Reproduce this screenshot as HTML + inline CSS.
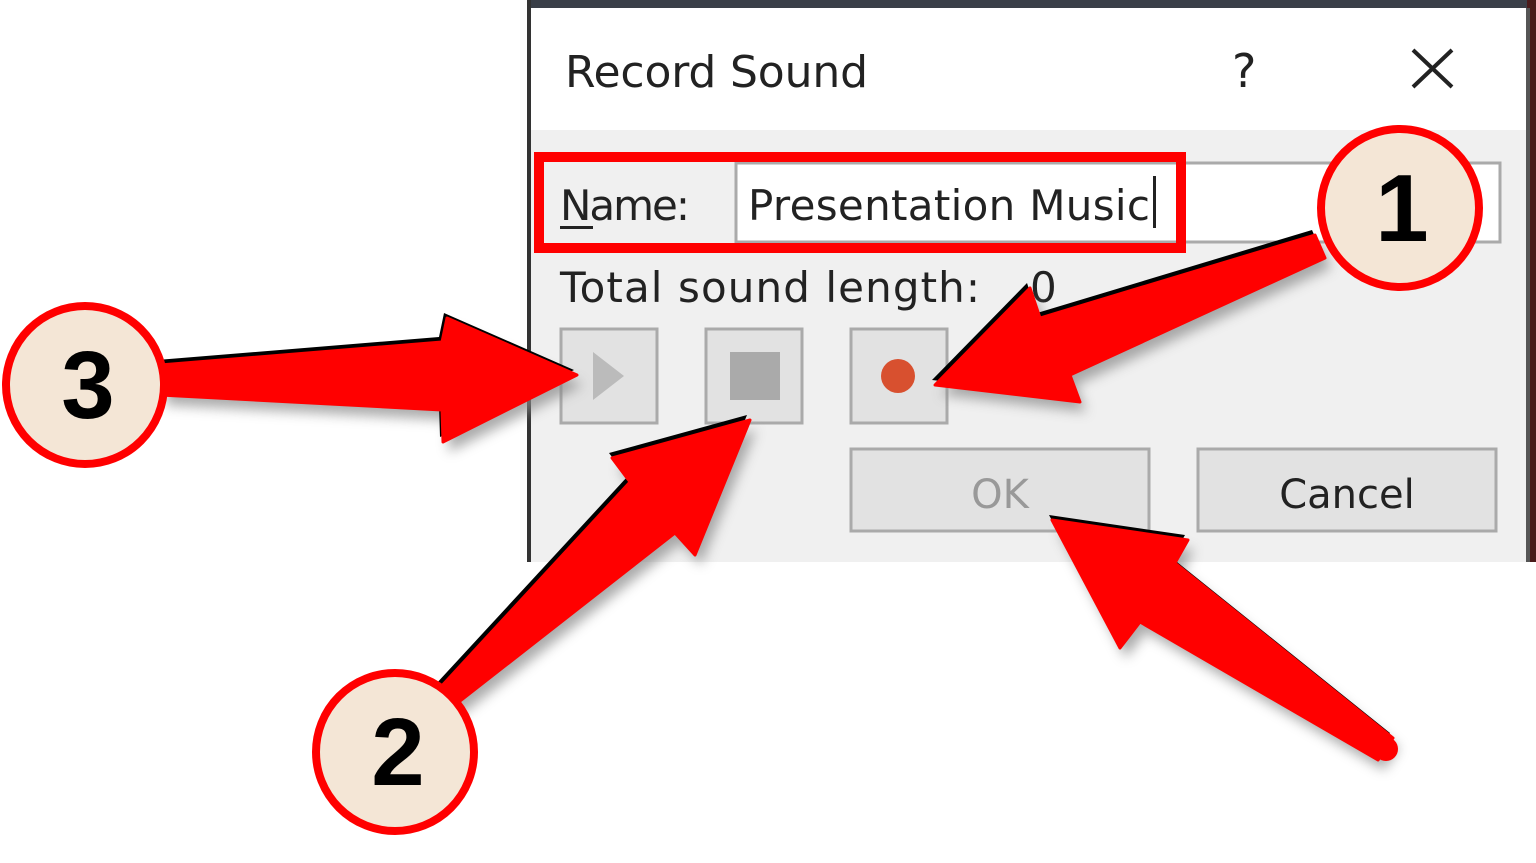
<!DOCTYPE html>
<html><head><style>
body{margin:0;width:1536px;height:863px;overflow:hidden;background:#fff;font-family:"DejaVu Sans","Liberation Sans",sans-serif;}
</style></head><body>
<svg width="1536" height="863" xmlns="http://www.w3.org/2000/svg" style="position:absolute;left:0;top:0">
<defs><filter id="sh" x="-20%" y="-20%" width="140%" height="140%"><feGaussianBlur stdDeviation="6"/></filter></defs>
<rect x="1520" y="0" width="16" height="562" fill="#4a1a1a"/>
<rect x="527" y="0" width="1000" height="8" fill="#3a3f48"/>
<rect x="527" y="8" width="1003" height="554" fill="#f0f0f0"/>
<rect x="530" y="8" width="998" height="122" fill="#fff"/>
<rect x="527" y="0" width="4" height="562" fill="#333"/>
<rect x="1526" y="8" width="4" height="554" fill="#555"/>
<text x="565" y="87" font-size="44" fill="#222" textLength="303">Record Sound</text>
<text x="1232" y="87" font-size="46" fill="#222">?</text>
<path d="M1413 50 L1452 87 M1452 50 L1413 87" stroke="#222" stroke-width="4"/>
<rect x="736" y="163" width="764" height="79" fill="#fff" stroke="#aaa" stroke-width="3"/>
<text x="560" y="220" font-size="42" fill="#222" textLength="130">Name:</text>
<rect x="560" y="226" width="33" height="3" fill="#222"/>
<text x="748" y="220" font-size="42" fill="#222" textLength="402">Presentation Music</text>
<rect x="1153" y="176" width="3" height="52" fill="#222"/>
<rect x="539" y="157" width="642" height="91" fill="none" stroke="#f00" stroke-width="10"/>
<text x="560" y="302" font-size="42" fill="#222" textLength="420">Total sound length:</text>
<text x="1030" y="302" font-size="42" fill="#222">0</text>
<rect x="561" y="329" width="96" height="94" fill="#e2e2e2" stroke="#aaa" stroke-width="3"/>
<polygon points="593,352 593,400 624,376" fill="#bbb"/>
<rect x="706" y="329" width="96" height="94" fill="#e2e2e2" stroke="#aaa" stroke-width="3"/>
<rect x="730" y="352" width="50" height="48" fill="#aaa"/>
<rect x="851" y="329" width="96" height="94" fill="#e2e2e2" stroke="#aaa" stroke-width="3"/>
<circle cx="898" cy="376" r="17" fill="#d8502f"/>
<rect x="851" y="449" width="298" height="82" fill="#e2e2e2" stroke="#aaa" stroke-width="3"/>
<text x="1000" y="508" font-size="40" fill="#999" text-anchor="middle">OK</text>
<rect x="1198" y="449" width="298" height="82" fill="#e2e2e2" stroke="#aaa" stroke-width="3"/>
<text x="1347" y="508" font-size="40" fill="#222" text-anchor="middle">Cancel</text>

<g id="arrows">
<g filter="url(#sh)" fill="#888" opacity="0.7" transform="translate(6,10)">
<polygon points="935,385 1030,288 1040,318 1315,235 1325,258 1070,375 1080,402"/>
<polygon points="577,375 447,318 442,342 160,365 160,395 442,410 443,442"/>
<polygon points="750,420 612,458 630,482 438,690 455,705 675,533 695,555"/>
<polygon points="1052,520 1188,540 1175,563 1393,738 1378,760 1140,622 1120,648"/>
</g>
<g fill="#000" transform="translate(-3,-5)">
<polygon points="935,385 1030,288 1040,318 1315,235 1325,258 1070,375 1080,402"/>
<polygon points="577,375 447,318 442,342 160,365 160,395 442,410 443,442"/>
<polygon points="750,420 612,458 630,482 438,690 455,705 675,533 695,555"/>
<polygon points="1052,520 1188,540 1175,563 1393,738 1378,760 1140,622 1120,648"/>
</g>
<g fill="#f00" stroke="#f00" stroke-width="3" stroke-linejoin="round">
<polygon points="935,385 1030,288 1040,318 1315,235 1325,258 1070,375 1080,402"/>
<polygon points="577,375 447,318 442,342 160,365 160,395 442,410 443,442"/>
<polygon points="750,420 612,458 630,482 438,690 455,705 675,533 695,555"/>
<polygon points="1052,520 1188,540 1175,563 1393,738 1378,760 1140,622 1120,648"/>
</g>
<circle cx="1386" cy="749" r="12" fill="#f00"/>
</g>
<g stroke="#f00" stroke-width="8" fill="#f4e6d6">
<circle cx="1400" cy="208" r="79"/>
<circle cx="85" cy="385" r="79"/>
<circle cx="395" cy="752" r="79"/>
</g>
<g font-family="Liberation Sans,sans-serif" font-weight="bold" font-size="96" fill="#000" text-anchor="middle">
<text x="1402" y="241">1</text>
<text x="88" y="418">3</text>
<text x="398" y="785">2</text>
</g>
</svg>
</body></html>
